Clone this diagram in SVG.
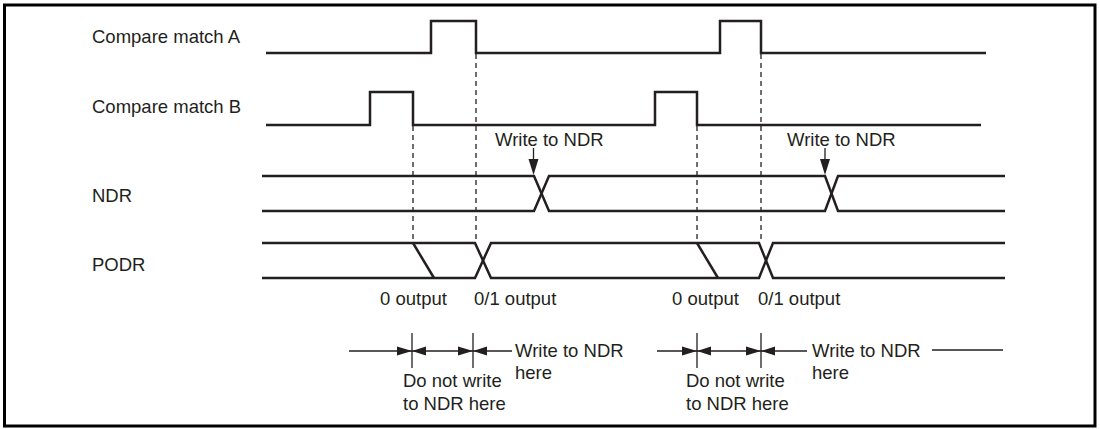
<svg xmlns="http://www.w3.org/2000/svg" width="1100" height="429" viewBox="0 0 1100 429">
  <style>
    text { font-family: "Liberation Sans", Arial, sans-serif; font-size: 18.5px; fill: #231f20; }
    .sig { fill: none; stroke: #231f20; stroke-width: 2.5; stroke-linejoin: miter; }
    .dash { fill: none; stroke: #231f20; stroke-width: 1.3; stroke-dasharray: 5,4; }
    .thin { fill: none; stroke: #231f20; stroke-width: 1.3; }
    .head { fill: #231f20; stroke: none; }
  </style>
  <rect x="4.5" y="5" width="1090.5" height="421" fill="#fff" stroke="#000" stroke-width="3"/>

  <g id="labels">
    <text x="92" y="43">Compare match A</text>
    <text x="92" y="113">Compare match B</text>
    <text x="92" y="202">NDR</text>
    <text x="92" y="271">PODR</text>
  </g>

  <g id="compare-match-a">
    <path class="sig" d="M266,53 H431 V21 H476 V53 H720 V21 H761 V53 H986"/>
  </g>
  <g id="compare-match-b">
    <path class="sig" d="M266,125 H370 V92 H413 V125 H655 V92 H697 V125 H981"/>
  </g>
  <g id="ndr">
    <path class="sig" d="M262,176 H534 L549,211 H825 L838,176 H1005"/>
    <path class="sig" d="M262,211 H534 L549,176 H825 L838,211 H1005"/>
  </g>
  <g id="podr">
    <path class="sig" d="M262,243 H475 L491,278 H759 L773,243 H1005"/>
    <path class="sig" d="M262,278 H475 L491,243 H759 L773,278 H1005"/>
    <path class="sig" d="M413,243 L434,278"/>
    <path class="sig" d="M697,243 L718,278"/>
  </g>

  <g id="connectors">
    <path class="dash" d="M413,126 V240"/>
    <path class="dash" d="M476,54 V240"/>
    <path class="dash" d="M697,126 V240"/>
    <path class="dash" d="M761,54 V240"/>
    <path class="thin" d="M533.5,148 V162"/>
    <polygon class="head" points="533.5,175 528.5,159 538.5,159"/>
    <path class="thin" d="M825,148 V162"/>
    <polygon class="head" points="825,175 820,159 830,159"/>
  </g>

  <g id="write-labels">
    <text x="495" y="146">Write to NDR</text>
    <text x="787" y="146">Write to NDR</text>
    <text x="380" y="305">0 output</text>
    <text x="474" y="305">0/1 output</text>
    <text x="672" y="305">0 output</text>
    <text x="758" y="305">0/1 output</text>
  </g>

  <g id="timing-1">
    <path class="thin" d="M349,351 H512"/>
    <path class="thin" d="M412,333 V368"/>
    <path class="thin" d="M473,333 V368"/>
    <polygon class="head" points="412,351 397,346.5 397,355.5"/>
    <polygon class="head" points="412,351 426,346.5 426,355.5"/>
    <polygon class="head" points="473,351 458,346.5 458,355.5"/>
    <polygon class="head" points="473,351 487,346.5 487,355.5"/>
    <text x="515" y="357">Write to NDR</text>
    <text x="515" y="379">here</text>
    <text x="403" y="387">Do not write</text>
    <text x="403" y="410">to NDR here</text>
  </g>

  <g id="timing-2">
    <path class="thin" d="M657,351 H807"/>
    <path class="thin" d="M932,350 H1003"/>
    <path class="thin" d="M697,333 V368"/>
    <path class="thin" d="M761,333 V368"/>
    <polygon class="head" points="697,351 682,346.5 682,355.5"/>
    <polygon class="head" points="697,351 711,346.5 711,355.5"/>
    <polygon class="head" points="761,351 746,346.5 746,355.5"/>
    <polygon class="head" points="761,351 775,346.5 775,355.5"/>
    <text x="812" y="357">Write to NDR</text>
    <text x="812" y="379">here</text>
    <text x="686" y="387">Do not write</text>
    <text x="686" y="410">to NDR here</text>
  </g>
</svg>
